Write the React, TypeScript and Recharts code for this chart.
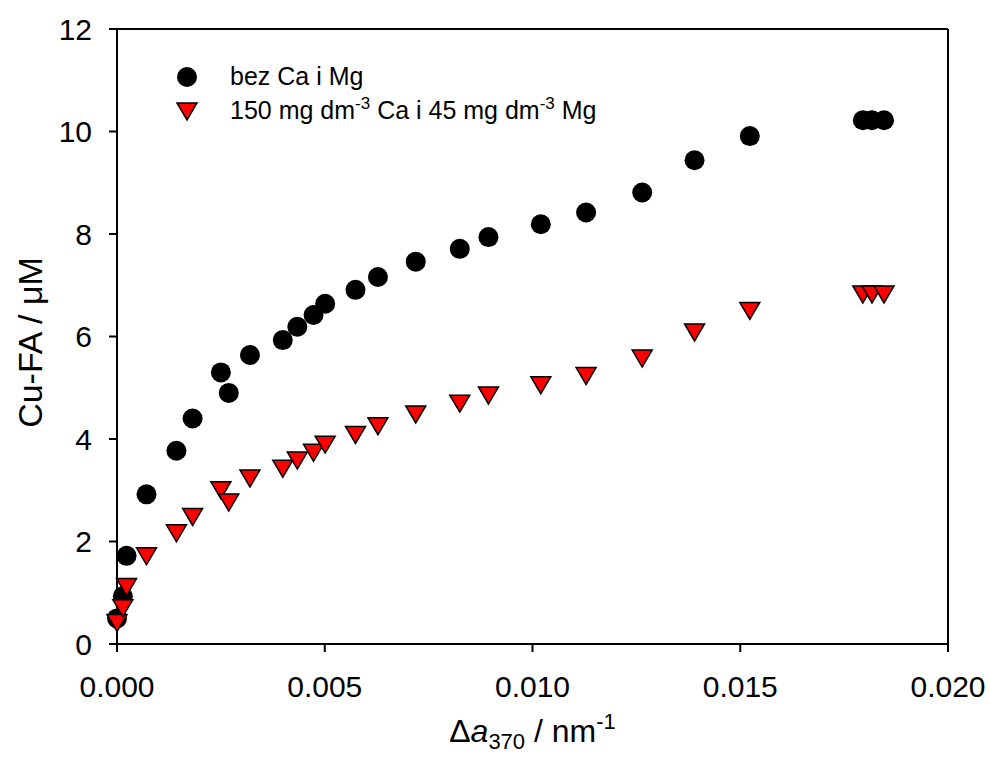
import React from 'react';
import { ScatterChart, Scatter, XAxis, YAxis, ReferenceLine } from 'recharts';

// Δa370 values (shared by both series)
const absorbance = [
  0, 0.00014, 0.00023, 0.00071, 0.00143, 0.00182, 0.0025, 0.00269, 0.0032, 0.00399, 0.00434,
  0.00473, 0.00501, 0.00574, 0.00628, 0.00719, 0.00825, 0.00894, 0.0102, 0.01129, 0.01264,
  0.0139, 0.01523, 0.01795, 0.01817, 0.01846,
];
// bez Ca i Mg
const cuFaPlain = [
  0.5, 0.93, 1.72, 2.92, 3.77, 4.4, 5.3, 4.9, 5.64, 5.93, 6.19, 6.42, 6.64, 6.91, 7.16, 7.46,
  7.71, 7.94, 8.19, 8.42, 8.81, 9.44, 9.91, 10.22, 10.22, 10.22,
];
// 150 mg/dm3 Ca i 45 mg/dm3 Mg
const cuFaCaMg = [
  0.41, 0.7, 1.11, 1.71, 2.16, 2.48, 3.0, 2.76, 3.23, 3.42, 3.58, 3.73, 3.89, 4.08, 4.25, 4.48,
  4.69, 4.85, 5.05, 5.23, 5.57, 6.08, 6.5, 6.82, 6.82, 6.82,
];

const xTicks = [0, 0.005, 0.01, 0.015, 0.02];
const yTicks = [0, 2, 4, 6, 8, 10, 12];

const plainData = absorbance.map((x, i) => ({ x, y: cuFaPlain[i] }));
const caMgData = absorbance.map((x, i) => ({ x, y: cuFaCaMg[i] }));

const FONT = 'Arial, "Liberation Sans", sans-serif';

const CircleMark = (props: any) => <circle cx={props.cx} cy={props.cy} r={10} fill="#000" />;

const TriangleMark = (props: any) => {
  const { cx, cy } = props;
  return (
    <polygon
      points={`${cx - 10},${cy - 8.5} ${cx + 10},${cy - 8.5} ${cx},${cy + 8.5}`}
      fill="#ff0000"
      stroke="#000"
      strokeWidth={1.5}
    />
  );
};

const XTitle = (props: any) => {
  const vb = props.viewBox || { x: 117, y: 644, width: 831, height: 114 };
  const cx = vb.x + vb.width / 2;
  return (
    <text x={cx} y={vb.y + 98} textAnchor="middle" fontFamily={FONT} fontSize={32} fill="#000">
      Δ<tspan fontStyle="italic">a</tspan>
      <tspan fontSize={22} dy={7}>370</tspan>
      <tspan dy={-7}> / nm</tspan>
      <tspan fontSize={22} dy={-13}>-1</tspan>
    </text>
  );
};

const YTitle = (props: any) => {
  const vb = props.viewBox || { x: 0, y: 29, width: 117, height: 615 };
  const cy = vb.y + vb.height / 2 + 6;
  return (
    <text
      x={42}
      y={cy}
      transform={`rotate(-90, 42, ${cy})`}
      textAnchor="middle"
      fontFamily={FONT}
      fontSize={34}
      fill="#000"
    >
      Cu-FA / μM
    </text>
  );
};

const tickStyle = { fontFamily: FONT, fontSize: 30, fill: '#000' };

export default function App() {
  return (
    <div style={{ position: 'absolute', left: 0, top: 0, width: 990, height: 758, background: '#fff' }}>
      <ScatterChart width={990} height={758} margin={{ top: 29, right: 42, bottom: 0, left: 0 }}>
        <XAxis
          type="number"
          dataKey="x"
          domain={[0, 0.02]}
          ticks={xTicks}
          interval={0}
          tickFormatter={(v: number) => v.toFixed(3)}
          height={114}
          tickSize={8}
          tickMargin={24}
          tick={tickStyle}
          axisLine={{ stroke: '#000', strokeWidth: 2 }}
          tickLine={{ stroke: '#000', strokeWidth: 2 }}
          label={{ content: XTitle }}
        />
        <YAxis
          type="number"
          dataKey="y"
          domain={[0, 12]}
          ticks={yTicks}
          interval={0}
          width={117}
          tickSize={8}
          tickMargin={17}
          tick={tickStyle}
          axisLine={{ stroke: '#000', strokeWidth: 2 }}
          tickLine={{ stroke: '#000', strokeWidth: 2 }}
          label={{ content: YTitle }}
        />
        <ReferenceLine y={12} stroke="#000" strokeWidth={2} />
        <ReferenceLine x={0.02} stroke="#000" strokeWidth={2} />
        <Scatter name="bez Ca i Mg" data={plainData} shape={CircleMark} isAnimationActive={false} />
        <Scatter
          name="150 mg dm-3 Ca i 45 mg dm-3 Mg"
          data={caMgData}
          shape={TriangleMark}
          isAnimationActive={false}
        />
      </ScatterChart>
      <svg
        width={990}
        height={758}
        style={{ position: 'absolute', left: 0, top: 0, pointerEvents: 'none' }}
      >
        <circle cx={187} cy={77} r={10} fill="#000" />
        <polygon points="177,103 197,103 187,120" fill="#ff0000" stroke="#000" strokeWidth={1.5} />
        <text x={230} y={85} fontFamily={FONT} fontSize={25} fill="#000">
          bez Ca i Mg
        </text>
        <text x={230} y={119} fontFamily={FONT} fontSize={25} fill="#000">
          150 mg dm<tspan fontSize={17} dy={-10}>-3</tspan>
          <tspan dy={10}> Ca i 45 mg dm</tspan>
          <tspan fontSize={17} dy={-10}>-3</tspan>
          <tspan dy={10}> Mg</tspan>
        </text>
      </svg>
    </div>
  );
}
